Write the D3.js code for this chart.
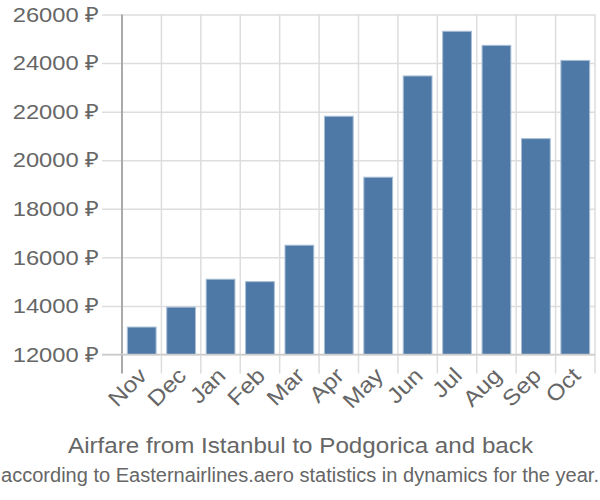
<!DOCTYPE html>
<html>
<head>
<meta charset="utf-8">
<script src="https://cdn.jsdelivr.net/npm/d3@7"></script>
<style>
body{margin:0;background:#fff;}
svg{display:block;font-family:"Liberation Sans",Arial,sans-serif;}
</style>
</head>
<body>
<svg id="chart" width="600" height="500"></svg>
<script>
const months = ["Nov","Dec","Jan","Feb","Mar","Apr","May","Jun","Jul","Aug","Sep","Oct"];
const prices = [13130,13950,15100,15000,16500,21810,19300,23470,25310,24730,20890,24110];
const yTicks = [12000,14000,16000,18000,20000,22000,24000,26000];
const title = "Airfare from Istanbul to Podgorica and back";
const subtitle = "according to Easternairlines.aero statistics in dynamics for the year.";

const svg = d3.select("#chart");
const pLeft = 122, pRight = 595, pTop = 14.5, pBottom = 354.5;

const x = d3.scaleBand().domain(months).range([pLeft, pRight]).paddingInner(0.27).paddingOuter(0.135);
const y = d3.scaleLinear().domain([12000, 26000]).range([pBottom, pTop]);

// horizontal gridlines + y ticks
const gy = svg.append("g").attr("transform", `translate(${pLeft},0)`)
  .call(d3.axisLeft(y).tickValues(yTicks).tickSize(20).tickPadding(3).tickFormat(d => d + " ₽"));
gy.select(".domain").remove();
gy.selectAll(".tick line").attr("stroke", "#ddd").attr("stroke-width", 1.5)
  .attr("x2", -20).attr("x1", pRight - pLeft);
gy.selectAll(".tick text").attr("fill", "#666").attr("font-size", 21)
  .attr("x", 0).attr("transform", "translate(-23,0) scale(1.13,1)");

// vertical gridlines at band boundaries
const bounds = months.map(m => x(m) - x.step() * x.paddingInner() / 2).concat([pRight]);
svg.append("g").selectAll("line").data(bounds.slice(1)).join("line")
  .attr("x1", d => d).attr("x2", d => d).attr("y1", pTop).attr("y2", pBottom + 19)
  .attr("stroke", "#ddd").attr("stroke-width", 1.5);

// bars
svg.append("g").selectAll("rect").data(months).join("rect")
  .attr("x", (d) => x(d))
  .attr("width", x.bandwidth())
  .attr("y", (d, i) => y(prices[i]))
  .attr("height", (d, i) => pBottom - y(prices[i]))
  .attr("fill", "#4e79a7")
  .attr("stroke", "#a9bfd6").attr("stroke-width", 1);

// axes lines
svg.append("line").attr("x1", pLeft).attr("x2", pLeft).attr("y1", pTop).attr("y2", pBottom + 19)
  .attr("stroke", "#aaa").attr("stroke-width", 2);
svg.append("line").attr("x1", pLeft - 20).attr("x2", pRight).attr("y1", pBottom).attr("y2", pBottom)
  .attr("stroke", "#ccc").attr("stroke-width", 1.5);

// x labels
const gx = svg.append("g").attr("transform", `translate(0,${pBottom})`)
  .call(d3.axisBottom(x).tickSize(0).tickPadding(0));
gx.select(".domain").remove();
gx.selectAll(".tick text")
  .attr("fill", "#666").attr("font-size", 22)
  .attr("text-anchor", "end")
  .attr("y", 0)
  .attr("dy", "0.35em")
  .attr("transform", "translate(1,17) rotate(-45) scale(1.12,1)");

// titles
svg.append("text").attr("x", 300.5).attr("y", 453.3).attr("text-anchor", "middle")
  .attr("fill", "#666").attr("font-size", 22).attr("textLength", 465).attr("lengthAdjust", "spacingAndGlyphs").text(title);
svg.append("text").attr("x", 300).attr("y", 482.3).attr("text-anchor", "middle")
  .attr("fill", "#666").attr("font-size", 19.5).attr("textLength", 598).attr("lengthAdjust", "spacingAndGlyphs").text(subtitle);
</script>
</body>
</html>
